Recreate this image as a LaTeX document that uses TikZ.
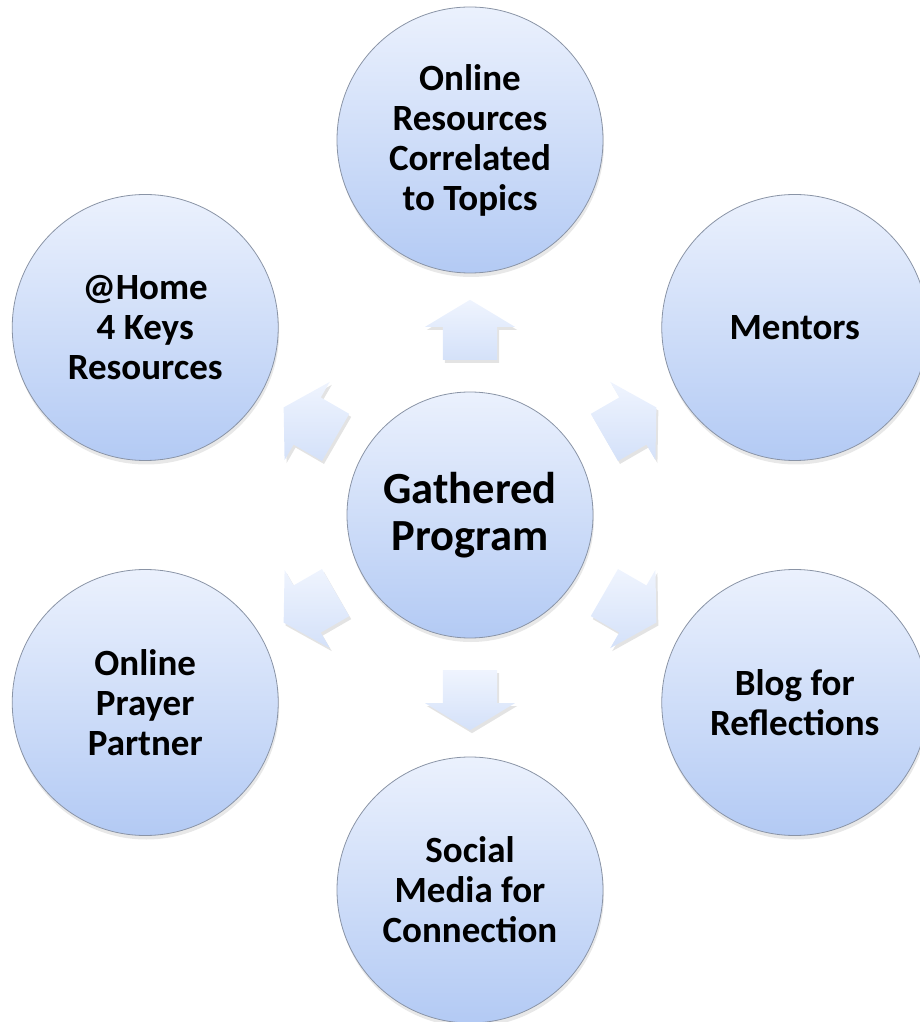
\documentclass[tikz,border=0pt]{standalone}
\usepackage{fontspec}
\setmainfont{Carlito}
\usetikzlibrary{calc,shapes.arrows,shadows}

\definecolor{bubbletop}{HTML}{EBF1FD}
\definecolor{bubblebot}{HTML}{B3CAF4}
\definecolor{bubbleline}{HTML}{8A94A6}
\definecolor{spoketop}{HTML}{EFF4FE}
\definecolor{spokebot}{HTML}{D4E1F9}

\tikzset{
 bubble/.style={circle, draw=bubbleline, line width=0.8pt,
  top color=bubbletop, bottom color=bubblebot,
  minimum size=266pt, inner sep=0pt, align=center,
  font=\bfseries\fontsize{37}{40}\selectfont,
  drop shadow={opacity=0.18, shadow xshift=1pt, shadow yshift=-4pt}},
 hubbubble/.style={bubble, minimum size=246pt,
  font=\bfseries\fontsize{44.5}{47}\selectfont},
 spoke/.style={single arrow, draw=none, inner xsep=0pt, inner ysep=27pt,
  minimum height=60pt,
  single arrow head extend=18pt, single arrow tip angle=118,
  top color=spoketop, bottom color=spokebot,
  drop shadow={opacity=0.22, shadow xshift=2pt, shadow yshift=-3pt}}
}

\begin{document}
\begin{tikzpicture}[x=1pt,y=1pt]
\useasboundingbox (-470,-507) rectangle (449,515);

\node[hubbubble] (hub) at (0,0) {Gathered\\Program};

\node[bubble] (online) at (90:375) {Online\\Resources\\Correlated\\to Topics};
\node[bubble] (mentors) at (30:375) {Mentors};
\node[bubble] (blog) at (-30:375) {Blog for\\Reflections};
\node[bubble] (social) at (-90:375) {Social\\Media for\\Connection};
\node[bubble] (prayer) at (-150:375) {Online\\Prayer\\Partner};
\node[bubble] (home) at (150:375) {@Home\\4 Keys\\Resources};

% spokes between hub and outer bubbles
\foreach \a/\n in {90/online,30/mentors,-30/blog,-90/social,-150/prayer,150/home}
 \node[spoke, rotate=\a] (to\n) at ($(hub)!0.472!(\n)$) {};

\end{tikzpicture}
\end{document}
